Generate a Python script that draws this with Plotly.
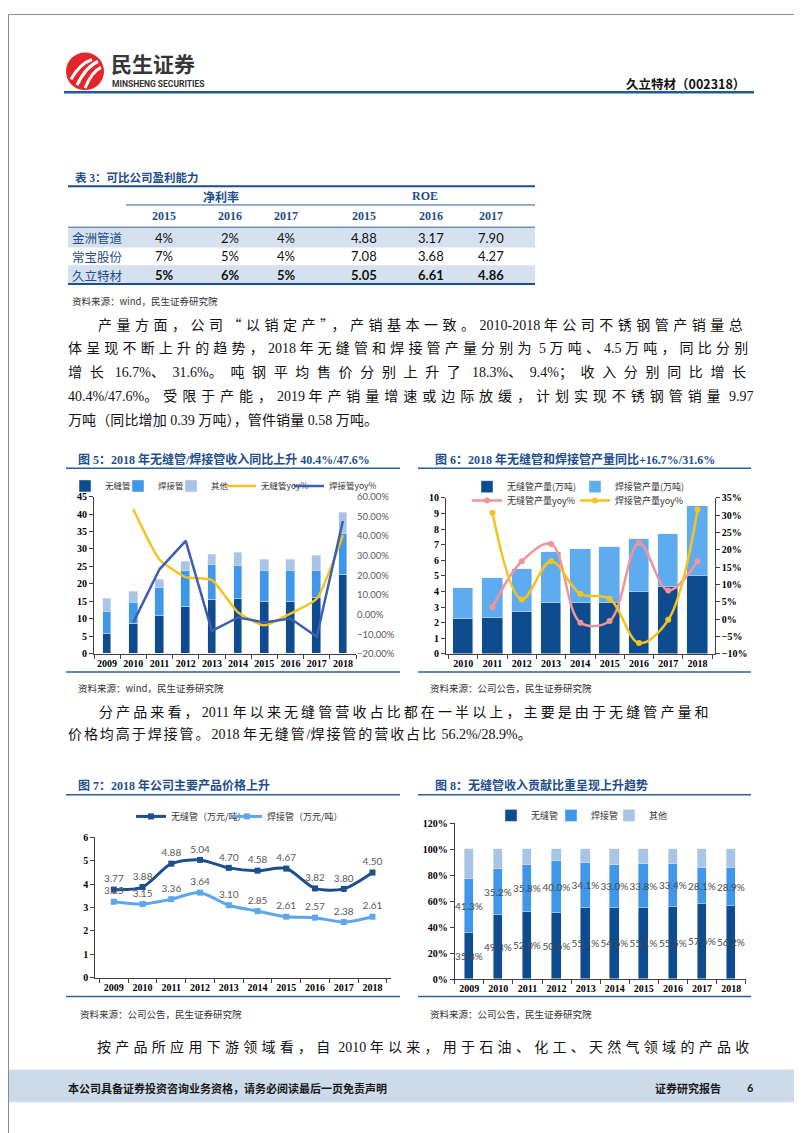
import plotly.graph_objects as go

W, H = 802, 1133


def X(px):
    return px / W


def Y(py):
    return 1 - py / H


# ---------------- data ----------------
tbl_companies = ["金洲管道", "常宝股份", "久立特材"]
tbl_years = ["2015", "2016", "2017"]
tbl_net_margin = [["4%", "2%", "4%"], ["7%", "5%", "4%"], ["5%", "6%", "5%"]]
tbl_roe = [["4.88", "3.17", "7.90"], ["7.08", "3.68", "4.27"], ["5.05", "6.61", "4.86"]]

years_10 = ["2009", "2010", "2011", "2012", "2013", "2014", "2015", "2016", "2017", "2018"]
years_9 = ["2010", "2011", "2012", "2013", "2014", "2015", "2016", "2017", "2018"]

# Fig 5: revenue and yoy (%)
rev_seamless = [5.7, 8.7, 11.1, 13.4, 15.6, 15.8, 14.9, 14.9, 16.2, 22.8]
rev_welded = [6.3, 5.9, 7.8, 10.5, 9.9, 9.5, 9.0, 9.0, 7.7, 11.6]
rev_other = [3.9, 3.1, 2.5, 2.5, 2.8, 3.7, 3.2, 3.0, 4.2, 6.0]
yoy_rev_seamless = [None, 53.5, 28.0, 19.0, 17.5, 1.0, -5.5, 0.5, 8.0, 40.4]
yoy_rev_welded = [None, -4.0, 23.0, 37.5, -8.3, -1.5, -4.0, -2.0, -11.3, 47.6]

# Fig 6: output (万吨) and yoy (%)
out_seamless = [2.26, 2.28, 2.70, 3.28, 3.28, 3.28, 3.97, 4.29, 5.00]
out_welded = [1.97, 2.62, 2.75, 3.23, 3.42, 3.59, 3.41, 3.38, 4.50]
yoy_out_seamless = [None, 3.5, 16.7, 21.7, -1.0, -0.5, 22.0, 8.3, 16.7]
yoy_out_welded = [None, 30.7, 5.7, 16.7, 7.3, 5.9, -6.9, -0.2, 31.6]

# Fig 7: prices (万元/吨)
price_seamless = [3.77, 3.88, 4.88, 5.04, 4.70, 4.58, 4.67, 3.82, 3.80, 4.50]
price_welded = [3.25, 3.15, 3.36, 3.64, 3.10, 2.85, 2.61, 2.57, 2.38, 2.61]

# Fig 8: revenue share (%)
share_seamless = [35.8, 49.3, 52.0, 50.6, 55.1, 54.6, 55.1, 55.5, 57.6, 56.2]
share_welded = [41.3, 35.2, 35.8, 40.0, 34.1, 33.0, 33.8, 33.4, 28.1, 28.9]
share_other = [22.9, 15.5, 12.2, 9.4, 10.8, 12.4, 11.1, 11.1, 14.3, 14.9]

para1 = [
    "产量方面，公司“以销定产”，产销基本一致。2010-2018 年公司不锈钢管产销量总",
    "体呈现不断上升的趋势，2018 年无缝管和焊接管产量分别为 5 万吨、4.5 万吨，同比分别",
    "增长 16.7%、31.6%。吨钢平均售价分别上升了 18.3%、9.4%；收入分别同比增长",
    "40.4%/47.6%。受限于产能，2019 年产销量增速或边际放缓，计划实现不锈钢管销量 9.97",
    "万吨（同比增加 0.39 万吨），管件销量 0.58 万吨。",
]
para2 = [
    "分产品来看，2011 年以来无缝管营收占比都在一半以上，主要是由于无缝管产量和",
    "价格均高于焊接管。2018 年无缝管/焊接管的营收占比 56.2%/28.9%。",
]
para3 = ["按产品所应用下游领域看，自 2010 年以来，用于石油、化工、天然气领域的产品收"]

# ---------------- styles ----------------
C_DARK = "#0E4C8F"
C_MID = "#3E97E8"
C_LIGHT = "#A8C5E6"
C_YELLOW = "#F6C21C"
C_BLUE_LINE = "#3D5FB3"
C_PINK = "#F2939A"
C_TITLE = "#1F4E8C"
C_RULE = "#2E5E98"
CJK = "Noto Sans CJK SC"
SERIF = "Liberation Serif, Noto Sans CJK SC"
TF = dict(family="Liberation Serif", size=10, color="#000000", weight="bold")

fig = go.Figure()

# ---- Fig 5 ----
fig.add_trace(go.Bar(x=years_10, y=rev_seamless, name="无缝管", marker_color=C_DARK, width=0.33,
                     xaxis="x", yaxis="y", legend="legend2"))
fig.add_trace(go.Bar(x=years_10, y=rev_welded, name="焊接管", marker_color=C_MID, width=0.33,
                     xaxis="x", yaxis="y", legend="legend3"))
fig.add_trace(go.Bar(x=years_10, y=rev_other, name="其他", marker_color=C_LIGHT, width=0.33,
                     xaxis="x", yaxis="y", legend="legend4"))
fig.add_trace(go.Scatter(x=years_10, y=yoy_rev_seamless, name="无缝管yoy%", mode="lines",
                         line=dict(color=C_YELLOW, width=2.5, shape="spline", smoothing=0.5),
                         xaxis="x", yaxis="y2", legend="legend5"))
fig.add_trace(go.Scatter(x=years_10, y=yoy_rev_welded, name="焊接管yoy%", mode="lines",
                         line=dict(color=C_BLUE_LINE, width=2.5),
                         xaxis="x", yaxis="y2", legend="legend6"))

# ---- Fig 6 ----
fig.add_trace(go.Bar(x=years_9, y=out_seamless, name="无缝管产量(万吨)", marker_color=C_DARK, width=0.7,
                     xaxis="x2", yaxis="y3", legend="legend7"))
fig.add_trace(go.Bar(x=years_9, y=out_welded, name="焊接管产量(万吨)", marker_color="#5FABEF", width=0.7,
                     xaxis="x2", yaxis="y3", legend="legend8"))
fig.add_trace(go.Scatter(x=years_9, y=yoy_out_seamless, name="无缝管产量yoy%", mode="lines+markers",
                         line=dict(color=C_PINK, width=2.5, shape="spline", smoothing=1.0),
                         marker=dict(symbol="circle", size=6, color=C_PINK),
                         xaxis="x2", yaxis="y4", legend="legend9"))
fig.add_trace(go.Scatter(x=years_9, y=yoy_out_welded, name="焊接管产量yoy%", mode="lines+markers",
                         line=dict(color=C_YELLOW, width=2.5, shape="spline", smoothing=1.0),
                         marker=dict(symbol="circle", size=6, color=C_YELLOW),
                         xaxis="x2", yaxis="y4", legend="legend10"))

# ---- Fig 7 ----
fig.add_trace(go.Scatter(x=years_10, y=price_seamless, name="无缝管（万元/吨）", mode="lines+markers+text",
                         line=dict(color="#1D4E8E", width=3, shape="spline", smoothing=0.8),
                         marker=dict(symbol="square", size=6, color="#1D4E8E"),
                         texttemplate="%{y:.2f}", textposition="top center",
                         textfont=dict(family="Lato", size=10, color="#595959"), cliponaxis=False,
                         xaxis="x3", yaxis="y5", legend="legend11"))
fig.add_trace(go.Scatter(x=years_10, y=price_welded, name="焊接管（万元/吨）", mode="lines+markers+text",
                         line=dict(color="#5BA6EC", width=3, shape="spline", smoothing=0.8),
                         marker=dict(symbol="square", size=6, color="#5BA6EC"),
                         texttemplate="%{y:.2f}", textposition="top center",
                         textfont=dict(family="Lato", size=10, color="#595959"), cliponaxis=False,
                         xaxis="x3", yaxis="y5", legend="legend12"))

# ---- Fig 8 ----
lbl_font = dict(family="Lato", size=10, color="#4A4A4A")
fig.add_trace(go.Bar(x=years_10, y=share_seamless, name="无缝管", marker_color=C_DARK, width=0.32,
                     texttemplate="%{y:.1f}%", textposition="inside", insidetextanchor="middle",
                     textangle=0, constraintext="none", textfont=lbl_font,
                     xaxis="x4", yaxis="y6", legend="legend13"))
fig.add_trace(go.Bar(x=years_10, y=share_welded, name="焊接管", marker_color=C_MID, width=0.32,
                     texttemplate="%{y:.1f}%", textposition="inside", insidetextanchor="middle",
                     textangle=0, constraintext="none", textfont=lbl_font,
                     xaxis="x4", yaxis="y6", legend="legend14"))
fig.add_trace(go.Bar(x=years_10, y=share_other, name="其他", marker_color=C_LIGHT, width=0.32,
                     xaxis="x4", yaxis="y6", legend="legend15"))

# ---------------- axes ----------------
LC = "#404040"
xcat = dict(type="category", showline=True, linecolor=LC, linewidth=1, ticks="outside", ticklen=4,
            tickcolor=LC, tickson="boundaries", showgrid=False, zeroline=False, tickfont=TF,
            tickangle=0, fixedrange=True)
yleft = dict(showline=True, linecolor=LC, linewidth=1, ticks="outside", ticklen=4, tickcolor=LC,
             showgrid=False, zeroline=False, tickfont=TF, fixedrange=True)

layout = dict(
    width=W, height=H, margin=dict(l=0, r=0, t=0, b=0),
    paper_bgcolor="white", plot_bgcolor="rgba(0,0,0,0)", barmode="stack", bargap=0,
    font=dict(family=CJK, size=10, color="#333333"),
    xaxis=dict(xcat, domain=[X(86), X(348)], anchor="y"),
    yaxis=dict(yleft, domain=[Y(646.7), Y(487.7)], anchor="x", range=[0, 45], dtick=5),
    yaxis2=dict(overlaying="y", side="right", anchor="x", range=[-20, 60], dtick=10, tickformat=".2f",
                ticksuffix="%", showline=False, showgrid=False, zeroline=False, fixedrange=True,
                tickfont=dict(family="Lato", size=9.5, color="#595959")),
    xaxis2=dict(xcat, domain=[X(438), X(706.7)], anchor="y3"),
    yaxis3=dict(yleft, domain=[Y(646.7), Y(489)], anchor="x2", range=[0, 10], dtick=1),
    yaxis4=dict(yleft, overlaying="y3", side="right", anchor="x2", range=[-10, 35], dtick=5, ticksuffix="%"),
    xaxis3=dict(xcat, domain=[X(87.3), X(383)], anchor="y5"),
    yaxis5=dict(yleft, domain=[Y(974), Y(832.3)], anchor="x3", range=[0, 6], dtick=1),
    xaxis4=dict(xcat, domain=[X(446.7), X(737.7)], anchor="y6"),
    yaxis6=dict(yleft, domain=[Y(975.7), Y(817.7)], anchor="x4", range=[0, 120], dtick=20, ticksuffix="%"),
    showlegend=True,
)


def mk_legend(text_x, y_px, size=9):
    # text_x: where the entry's label should start
    return dict(x=X(text_x - 47), y=Y(y_px), xanchor="left", yanchor="middle", orientation="h",
                bgcolor="rgba(0,0,0,0)", borderwidth=0, itemwidth=30, tracegroupgap=0,
                font=dict(family=CJK, size=size, color="#333333"), itemclick=False, itemdoubleclick=False)


legend_pos = [
    (104, 477, 8.5), (157, 477, 8.5), (210, 477, 8.5), (260, 477, 8.5), (328, 477, 8.5),   # fig 5
    (506, 477.7, 9), (614, 477.7, 9), (506, 491.7, 9), (614, 491.7, 9),                   # fig 6
    (170, 811, 9), (266, 811, 9),                                                          # fig 7
    (530, 810, 9), (590, 810, 9), (648, 810, 9),                                           # fig 8
]
for i, (tx, ty, fs) in enumerate(legend_pos):
    layout[f"legend{i + 2}"] = mk_legend(tx, ty, fs)

fig.update_layout(**layout)

# ---------------- shapes ----------------
shapes = []


def hline(y, x0, x1, color=C_RULE, width=1.0):
    shapes.append(dict(type="line", xref="paper", yref="paper", x0=X(x0), x1=X(x1), y0=Y(y), y1=Y(y),
                       line=dict(color=color, width=width)))


def rect(x0, y0, x1, y1, fill):
    shapes.append(dict(type="rect", xref="paper", yref="paper", x0=X(x0), x1=X(x1), y0=Y(y1), y1=Y(y0),
                       fillcolor=fill, line=dict(color=fill, width=0), layer="below"))


# page frame
shapes.append(dict(type="rect", xref="paper", yref="paper", x0=X(0.5), x1=X(801.5), y0=Y(1132.5), y1=Y(0.5),
                   line=dict(color="#8C8C8C", width=1), fillcolor="rgba(0,0,0,0)"))
# logo
shapes.append(dict(type="circle", xref="paper", yref="paper", x0=X(58), x1=X(96), y0=Y(77), y1=Y(39),
                   fillcolor="#E2262B", line=dict(color="#E2262B", width=0)))
for (ax, ay, bx, by, cx, cy) in [(63, 66, 72, 50, 84, 46), (69, 72, 78, 53, 90, 48), (77, 75, 84, 58, 93, 54)]:
    shapes.append(dict(type="path", xref="paper", yref="paper",
                       path=f"M{X(ax)},{Y(ay)} Q{X(bx)},{Y(by)} {X(cx)},{Y(cy)}",
                       line=dict(color="white", width=3)))
hline(79, 56, 746, color="#1F5A9E", width=2.5)

# table
rect(60, 216, 527, 236, "#D5E1EE")
rect(60, 254, 527, 273, "#D5E1EE")
hline(174, 60, 527, color="#1F4E8C", width=2)
hline(193, 118, 527, color=C_RULE, width=1)
hline(215.5, 60, 527, color=C_RULE, width=1)
hline(273, 60, 527, color="#1F4E8C", width=2)

# chart rules
for yy in (459, 665, 789, 993):
    hline(yy, 58, 392, width=1.5)
    hline(yy, 410, 743, width=1.5)

# footer band
rect(1, 1067, 801, 1100, "#CCDAEA")

fig.update_layout(shapes=shapes)

# ---------------- annotations ----------------
ann = []


def text(x, y, s, size=10, color="#333333", family=CJK, anchor="left", weight="normal"):
    ann.append(dict(x=X(x), y=Y(y), xref="paper", yref="paper", text=s, showarrow=False,
                    xanchor=anchor, yanchor="middle",
                    font=dict(size=size, color=color, family=family, weight=weight)))


# header
text(101, 50, "民生证券", size=21, color="#363636", weight="bold")
text(102, 71, "MINSHENG SECURITIES", size=8.5, color="#333333", family="Roboto", weight="bold")
text(739, 70, "久立特材（002318）", size=12.5, color="#111111", anchor="right", weight="bold")

# table
text(65, 165, "表 3：可比公司盈利能力", size=11.5, color=C_TITLE, family=SERIF, weight="bold")
text(213, 184, "净利率", size=12, color=C_TITLE, anchor="center", weight="bold")
text(417, 184, "ROE", size=12, color=C_TITLE, family="Liberation Serif", anchor="center", weight="bold")
col_x = [156, 222, 278, 356, 423, 483]
for j, yr in enumerate(tbl_years + tbl_years):
    text(col_x[j], 204, yr, size=12, color=C_TITLE, family="Liberation Serif", anchor="center", weight="bold")
row_y = [226, 245, 264]
for i, comp in enumerate(tbl_companies):
    text(62, row_y[i], comp, size=12.5, color=C_TITLE)
    w = "bold" if i == 2 else "normal"
    for j, v in enumerate(tbl_net_margin[i] + tbl_roe[i]):
        text(col_x[j], row_y[i], v, size=13, color="#111111", family="Lato", anchor="center", weight=w)
text(62, 290, "资料来源：wind，民生证券研究院", size=9.5, color="#333333")

# body paragraphs: CJK runs get letter spacing so the line is justified like the original
FS = 14


def is_cjk(ch):
    return ord(ch) >= 0x2E80 or ch in "“”"


def em_width(s):
    w = 0.0
    for ch in s:
        if is_cjk(ch):
            w += 1.0
        elif ch.isdigit():
            w += 0.5
        elif ch == ".":
            w += 0.25
        elif ch == "%":
            w += 0.833
        elif ch == "/":
            w += 0.278
        elif ch == " ":
            w += 0.3
        elif ch == "-":
            w += 0.333
        else:
            w += 0.5
    return w


def body_line(s, x0, y, x1=None, ls=2.8):
    n_cjk = sum(1 for ch in s if is_cjk(ch))
    if x1 is not None:
        ls = (x1 - x0 - em_width(s) * FS) / max(n_cjk, 1)
    runs, cur, cur_c = [], "", None
    for ch in s:
        c = is_cjk(ch)
        if cur and c != cur_c:
            runs.append((cur, cur_c))
            cur = ""
        cur += ch
        cur_c = c
    if cur:
        runs.append((cur, cur_c))
    html = "".join(
        f"<span style=\"letter-spacing:{ls:.2f}px;font-family:'Noto Sans CJK SC'\">{r}</span>" if c else r
        for r, c in runs)
    text(x0, y, html, size=FS, color="#111111", family=SERIF)


p1_y = [313, 337, 361, 385, 409]
body_line(para1[0], 88, p1_y[0], 745)
for k in range(1, 4):
    body_line(para1[k], 58, p1_y[k], 745)
body_line(para1[4], 58, p1_y[4], 378)

body_line(para2[0], 89, 704, 703)
body_line(para2[1], 58, 727, 525)
body_line(para3[0], 87, 1043, 745)

# chart titles
text(68, 450, "图 5：2018 年无缝管/焊接管收入同比上升 40.4%/47.6%", size=12, color=C_TITLE, family=SERIF, weight="bold")
text(425, 450, "图 6：2018 年无缝管和焊接管产量同比+16.7%/31.6%", size=12, color=C_TITLE, family=SERIF, weight="bold")
text(68, 780, "图 7：2018 年公司主要产品价格上升", size=12, color=C_TITLE, family=SERIF, weight="bold")
text(425, 780, "图 8：无缝管收入贡献比重呈现上升趋势", size=12, color=C_TITLE, family=SERIF, weight="bold")

# sources
text(68, 681, "资料来源：wind，民生证券研究院", size=9.5)
text(420, 681, "资料来源：公司公告，民生证券研究院", size=9.5)
text(70, 1011, "资料来源：公司公告，民生证券研究院", size=9.5)
text(420, 1011, "资料来源：公司公告，民生证券研究院", size=9.5)

# footer
text(58, 1085, "本公司具备证券投资咨询业务资格，请务必阅读最后一页免责声明", size=11, color="#1A1A1A", weight="bold")
text(645, 1085, "证券研究报告", size=11, color="#1A1A1A", weight="bold")
text(742, 1085, "6", size=11, color="#1A1A1A", family="Lato", anchor="center", weight="bold")

fig.update_layout(annotations=ann)

fig.write_html("out.html")
